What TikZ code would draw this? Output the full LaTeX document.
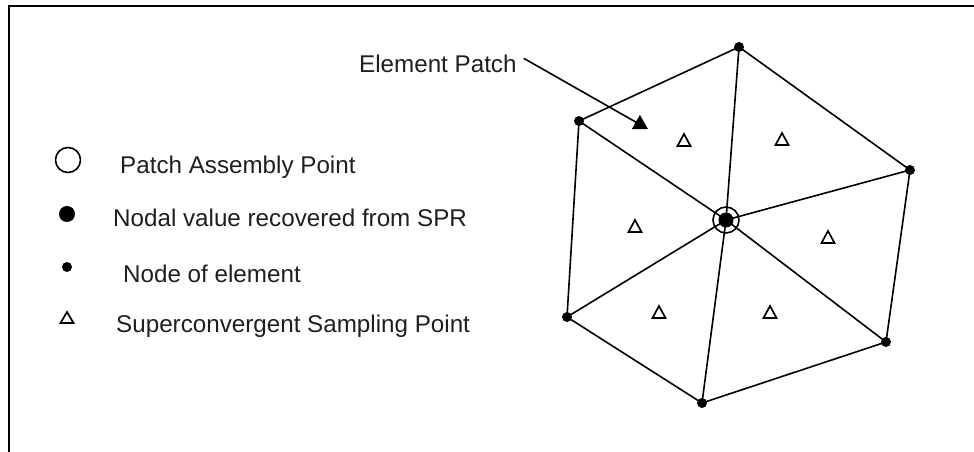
\documentclass[tikz,border=0pt]{standalone}
\usepackage{fontspec}
\setmainfont{Liberation Sans}
\usetikzlibrary{arrows.meta}
\begin{document}
\begin{tikzpicture}[x={(1pt,0pt)}, y={(0pt,-1pt)},
  edge/.style={line width=1.6pt, line cap=round},
  nodedot/.style={circle, fill=black, inner sep=0pt, minimum size=10pt},
  tri/.style={line width=1.7pt, line join=miter},
  lbl/.style={anchor=base west, inner sep=0pt, font=\fontsize{24.2}{29}\selectfont, text=black!88}
]
\useasboundingbox (0,0) rectangle (974,452);

% open frame: top and left edges only
\draw[line width=2pt] (9,452) -- (9,6.5) -- (980,6.5);

% mesh nodes
\coordinate (C)  at (726,220);
\coordinate (T)  at (739,47);
\coordinate (R)  at (910,170);
\coordinate (LR) at (886,342);
\coordinate (B)  at (702,403);
\coordinate (L)  at (567,317);
\coordinate (UL) at (579,121);

% outer hexagon and spokes
\draw[edge] (T) -- (R) -- (LR) -- (B) -- (L) -- (UL) -- cycle;
\foreach \p in {T,R,LR,B,L,UL} \draw[edge] (C) -- (\p);

% element nodes
\foreach \p in {T,R,LR,B,L,UL} \node[nodedot] at (\p) {};

% patch assembly point with recovered nodal value
\node[circle, fill=black, inner sep=0pt, minimum size=15pt] (Cdot) at (C) {};
\node[circle, draw, line width=1.6pt, inner sep=0pt, minimum size=26pt] (Cring) at (C) {};

% superconvergent sampling points, one per element
\foreach \x/\y in {684/140, 782/139, 635/226, 828/237, 659/312, 770/312}
  \draw[tri] (\x-6.5,\y+6) -- (\x,\y-6) -- (\x+6.5,\y+6) -- cycle;

% annotation
\node[lbl] (ep) at (359,73) {Element Patch};
\coordinate (tip) at (648,129);
\draw[line width=1.6pt, -{Triangle[length=14pt,width=16pt]}] (ep.east) ++(7,-6) coordinate (ep0) -- (tip);

% legend
\draw[line width=1.6pt] (68,160) circle (12.5);
\node[lbl] (l1) at (120,173) {Patch Assembly Point};
\fill (67,214) circle (8);
\node[lbl] (l2) at (113,226) {Nodal value recovered from SPR};
\fill (67,267) circle (5);
\node[lbl] (l3) at (123,282) {Node of element};
\draw[tri] (60.5,323) -- (67,312) -- (73.5,323) -- cycle;
\node[lbl] (l4) at (116,332) {Superconvergent Sampling Point};
\end{tikzpicture}
\end{document}
